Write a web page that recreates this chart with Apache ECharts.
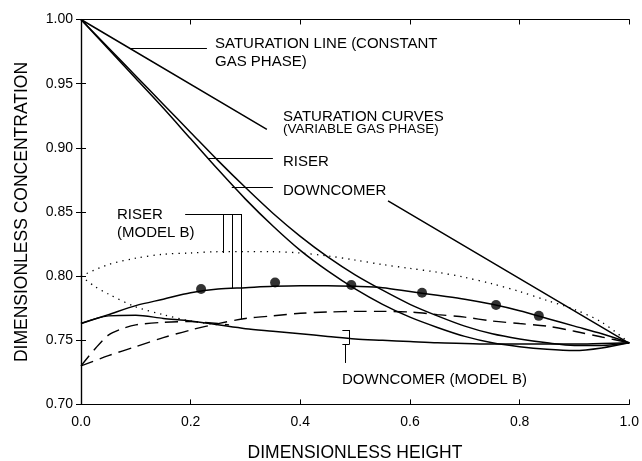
<!DOCTYPE html>
<html><head><meta charset="utf-8">
<script src="https://cdn.jsdelivr.net/npm/echarts@6/dist/echarts.min.js"></script>
<style>html,body{margin:0;padding:0;background:#fff}#c{width:642px;height:461px}</style>
</head><body><div id="c"></div>
<script>
// ---- data ----
const heights = [0,0.05,0.1,0.15,0.2,0.25,0.3,0.35,0.4,0.45,0.5,0.55,0.6,0.65,0.7,0.75,0.8,0.85,0.9,0.95,1.0];
const riserSat   = [1.000,0.978,0.956,0.934,0.912,0.890,0.869,0.849,0.831,0.815,0.801,0.789,0.778,0.769,0.761,0.755,0.751,0.748,0.746,0.746,0.748];
const downSat    = [1.000,0.977,0.954,0.931,0.907,0.883,0.860,0.839,0.820,0.804,0.790,0.778,0.768,0.760,0.753,0.748,0.745,0.743,0.742,0.744,0.748];
const riserModelB = [0.763,0.770,0.777,0.782,0.787,0.790,0.791,0.792,0.7925,0.7925,0.792,0.791,0.788,0.785,0.782,0.778,0.773,0.767,0.761,0.755,0.748];
const downModelB  = [0.763,0.769,0.7695,0.767,0.765,0.762,0.759,0.757,0.755,0.753,0.751,0.750,0.749,0.748,0.7475,0.747,0.747,0.747,0.747,0.7475,0.748];
const dottedUpper = [0.800,0.809,0.814,0.817,0.818,0.819,0.819,0.819,0.818,0.8157,0.8125,0.809,0.806,0.803,0.799,0.794,0.788,0.781,0.774,0.764,0.748];
const dottedLowerX = [0,0.025,0.05,0.1,0.15,0.2,0.25];
const dottedLowerY = [0.800,0.792,0.786,0.776,0.770,0.765,0.762];
const dashedFastX = [0,0.025,0.05,0.075,0.1,0.15,0.2,0.25,0.27];
const dashedFastY = [0.730,0.743,0.754,0.759,0.762,0.764,0.7645,0.763,0.762];
const dashedSlow  = [0.730,0.738,0.745,0.752,0.758,0.763,0.767,0.769,0.771,0.772,0.7725,0.7725,0.772,0.770,0.768,0.765,0.763,0.761,0.757,0.7525,0.748];
const satLineX = [0,0.339,0.56,1.0];
const satLineY = [1.0,0.9144,0.8587,0.7476];
const expX = [0.219,0.354,0.493,0.622,0.757,0.835];
const expY = [0.790,0.795,0.793,0.787,0.7775,0.769];
const xTicks = [0,0.2,0.4,0.6,0.8,1.0];
const yTicks = [0.70,0.75,0.80,0.85,0.90,0.95,1.00];
// leader lines for labels, data coordinates [x1,y1,x2,y2]
const leaders = [
  [0.0893,0.9778,0.2297,0.9778],
  [0.2315,0.892,0.350,0.892],
  [0.275,0.869,0.350,0.869],
  [0.190,0.8484,0.2923,0.8484],
  [0.2589,0.8484,0.2589,0.818],
  [0.2757,0.8484,0.2757,0.7905],
  [0.2923,0.8484,0.2923,0.7665],
  [0.4767,0.758,0.4896,0.758],
  [0.4896,0.758,0.4896,0.7467],
  [0.4767,0.7467,0.4896,0.7467],
  [0.4823,0.7467,0.4823,0.7323]
];

const zip = (xs, ys) => xs.map((x, i) => [x, ys[i]]);
const satLineData = [[satLineX[0],satLineY[0]],[satLineX[1],satLineY[1]],[0.45,'-'],[satLineX[2],satLineY[2]],[satLineX[3],satLineY[3]]];

const FONT = '"Liberation Sans", Arial, sans-serif';
const black = '#000';
const solid = {color: black, width: 1.5};

const chart = echarts.init(document.getElementById('c'), null, {renderer: 'canvas'});
const axisCommon = {
  type: 'value', axisLine: {show: true, lineStyle: {color: black, width: 1.2}},
  axisTick: {show: true, inside: true, length: 5, lineStyle: {color: black, width: 1}},
  splitLine: {show: false}
};
chart.setOption({
  backgroundColor: '#fff',
  animation: false,
  grid: {left: 81, right: 12, top: 19.5, bottom: 56.6, containLabel: false},
  xAxis: [
    Object.assign({}, axisCommon, {min: 0, max: 1, interval: 0.2, position: 'bottom',
      axisLabel: {color: black, fontSize: 14, fontFamily: FONT, margin: 11, formatter: v => v.toFixed(1)}}),
    Object.assign({}, axisCommon, {min: 0, max: 1, interval: 0.2, position: 'top', axisLabel: {show: false}})
  ],
  yAxis: [
    Object.assign({}, axisCommon, {min: 0.70, max: 1.00, interval: 0.05, position: 'left',
      axisLabel: {color: black, fontSize: 14, fontFamily: FONT, margin: 8, formatter: v => v.toFixed(2)}}),
    Object.assign({}, axisCommon, {min: 0.70, max: 1.00, interval: 0.05, position: 'right', axisLabel: {show: false}})
  ],
  series: [
    {type: 'line', data: satLineData, showSymbol: false, lineStyle: solid, connectNulls: false},
    {type: 'line', data: zip(heights, riserSat), showSymbol: false, smooth: 0.3, lineStyle: solid},
    {type: 'line', data: zip(heights, downSat), showSymbol: false, smooth: 0.3, lineStyle: solid},
    {type: 'line', data: zip(heights, riserModelB), showSymbol: false, smooth: 0.3, lineStyle: solid},
    {type: 'line', data: zip(heights, downModelB), showSymbol: false, smooth: 0.3, lineStyle: solid},
    {type: 'line', data: zip(heights, dottedUpper), showSymbol: false, smooth: 0.3, lineStyle: {color: black, width: 1.3, type: [1.3, 5]}},
    {type: 'line', data: zip(dottedLowerX, dottedLowerY), showSymbol: false, smooth: 0.3, lineStyle: {color: black, width: 1.3, type: [1.3, 5]}},
    {type: 'line', data: zip(dashedFastX, dashedFastY), showSymbol: false, smooth: 0.3, lineStyle: {color: black, width: 1.4, type: [13, 7]}},
    {type: 'line', data: zip(heights, dashedSlow), showSymbol: false, smooth: 0.3, lineStyle: {color: black, width: 1.4, type: [13, 7]}},
    {type: 'scatter', data: zip(expX, expY), symbol: 'circle', symbolSize: 10, itemStyle: {color: black}},
    {type: 'lines', coordinateSystem: 'cartesian2d', polyline: false, silent: true,
      lineStyle: {color: black, width: 1, opacity: 1},
      data: leaders.map(s => ({coords: [[s[0], s[1]], [s[2], s[3]]]}))}
  ],
  graphic: [
    {type: 'text', left: 215, top: 36, style: {text: 'SATURATION LINE (CONSTANT', font: '15px ' + FONT, fill: black}},
    {type: 'text', left: 215, top: 54, style: {text: 'GAS PHASE)', font: '15px ' + FONT, fill: black}},
    {type: 'text', left: 283, top: 109, style: {text: 'SATURATION CURVES', font: '15px ' + FONT, fill: black}},
    {type: 'text', left: 283, top: 122, style: {text: '(VARIABLE GAS PHASE)', font: '13.5px ' + FONT, fill: black}},
    {type: 'text', left: 283, top: 154, style: {text: 'RISER', font: '15px ' + FONT, fill: black}},
    {type: 'text', left: 283, top: 183, style: {text: 'DOWNCOMER', font: '15px ' + FONT, fill: black}},
    {type: 'text', left: 117, top: 207, style: {text: 'RISER', font: '15px ' + FONT, fill: black}},
    {type: 'text', left: 117, top: 225, style: {text: '(MODEL B)', font: '15px ' + FONT, fill: black}},
    {type: 'text', left: 342, top: 372, style: {text: 'DOWNCOMER (MODEL B)', font: '15px ' + FONT, fill: black}},
    {type: 'text', x: 355, y: 453, style: {text: 'DIMENSIONLESS HEIGHT', font: '17.5px ' + FONT, fill: black, textAlign: 'center', textVerticalAlign: 'middle'}},
    {type: 'text', x: 22, y: 212, rotation: Math.PI / 2, style: {text: 'DIMENSIONLESS CONCENTRATION', font: '17.5px ' + FONT, fill: black, textAlign: 'center', textVerticalAlign: 'middle'}}
  ]
});
</script>
</body></html>
